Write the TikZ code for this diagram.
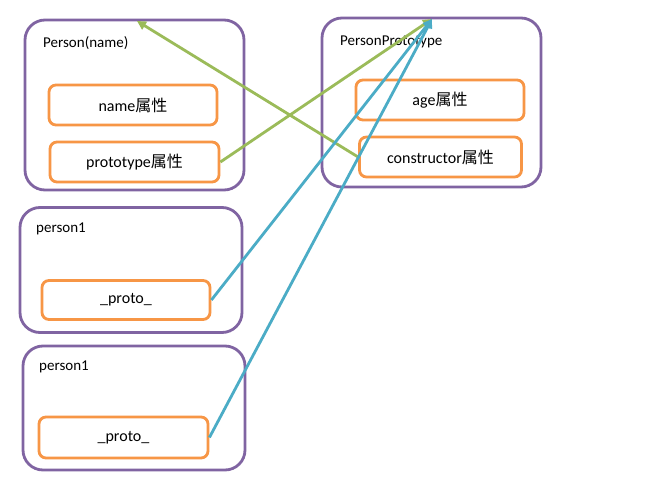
\documentclass[tikz,border=0pt]{standalone}
\usepackage{fontspec}
\setmainfont{Carlito}
\newfontfamily\cjk{Noto Sans CJK SC}
\usetikzlibrary{arrows.meta}
\definecolor{bpurple}{HTML}{8064A2}
\definecolor{borange}{HTML}{F79646}
\definecolor{bgreen}{HTML}{9BBB59}
\definecolor{bblue}{HTML}{4BACC6}
\begin{document}
\begin{tikzpicture}[x=1pt,y=-1pt,
  outerbox/.style={draw=bpurple,line width=2.8pt,rounded corners=20pt,minimum width=#1,inner sep=0pt},
  innerbox/.style={draw=borange,line width=2.8pt,rounded corners=7pt,inner sep=0pt,font=\fontsize{16}{18}\selectfont},
  lbl/.style={anchor=west,inner sep=0pt,font=\fontsize{15}{17}\selectfont},
  garrow/.style={draw=bgreen,line width=2.8pt,-{Triangle[length=9pt,width=9pt]}},
  barrow/.style={draw=bblue,line width=2.8pt,-{Triangle[length=9pt,width=9pt]}}
]
\useasboundingbox[fill=white] (0,0) rectangle (654,493);
% outer boxes
\node[outerbox=219pt,minimum height=170pt] (person) at (134.5,105) {};
\node[outerbox=219pt,minimum height=169pt] (pp) at (431.5,102.5) {};
\node[outerbox=222pt,minimum height=125pt] (p1) at (131,270) {};
\node[outerbox=222pt,minimum height=124pt] (p2) at (134,408) {};
% labels
\node[lbl] (lperson) at (43,43) {Person(name)};
\node[lbl] (lpp) at (340,42) {PersonPrototype};
\node[lbl] (lp1) at (36,229) {person1};
\node[lbl] (lp2) at (39,367) {person1};
% inner boxes
\node[innerbox,minimum width=168pt,minimum height=40pt] (name) at (133,105) {name{\cjk 属性}};
\node[innerbox,minimum width=169pt,minimum height=40pt] (proto) at (134.5,162) {prototype{\cjk 属性}};
\node[innerbox,minimum width=168pt,minimum height=40pt] (age) at (440,100) {age{\cjk 属性}};
\node[innerbox,minimum width=162pt,minimum height=40pt] (ctor) at (440.5,157) {constructor{\cjk 属性}};
\node[innerbox,minimum width=168pt,minimum height=39pt] (pr1) at (126,300) {\_proto\_};
\node[innerbox,minimum width=169pt,minimum height=41pt] (pr2) at (123.5,437.5) {\_proto\_};
% arrow targets
\coordinate (ptop) at (137,21);
\coordinate (pptop) at (432,19);
% connectors
\draw[garrow] (ctor.west) -- (ptop);
\draw[garrow] (proto.east) -- (pptop);
\draw[barrow] (pr1.east) -- (pptop);
\draw[barrow] (pr2.east) -- (pptop);
\end{tikzpicture}
\end{document}
